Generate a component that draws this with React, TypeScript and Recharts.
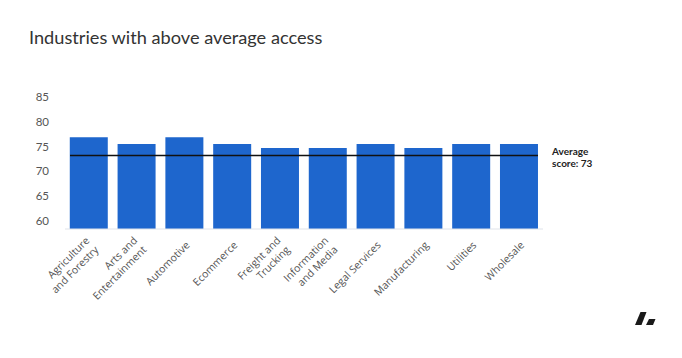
import { BarChart, Bar, XAxis, YAxis, ReferenceLine } from "recharts"

const industries = [
  "Agriculture\nand Forestry",
  "Arts and\nEntertainment",
  "Automotive",
  "Ecommerce",
  "Freight and\nTrucking",
  "Information\nand Media",
  "Legal Services",
  "Manufacturing",
  "Utilities",
  "Wholesale",
]
const scores = [76.9, 75.5, 76.9, 75.5, 74.7, 74.7, 75.5, 74.7, 75.5, 75.5]
const yTicks = [60, 65, 70, 75, 80, 85]
const averageScore = 73.2
const averageLabel = ["Average", "score: 73"]

const BLUE = "#1e66cd"
const TEXT = "#555555"
const FONT = "Lato, 'Open Sans', sans-serif"

const data = industries.map((name, i) => ({ name, score: scores[i] }))

function IndustryTick(props: any) {
  const { x, y, payload } = props
  const lines = String(payload.value).split("\n")
  return (
    <g transform={`translate(${x + 3},${y + 6})`}>
      <text
        transform="rotate(-45)"
        textAnchor="end"
        fill={TEXT}
        fontSize={10.5}
        fontFamily="'Open Sans', sans-serif"
      >
        {lines.map((l, i) => (
          <tspan key={i} x={0} y={(i - (lines.length - 1) / 2) * 13 + 4}>
            {l}
          </tspan>
        ))}
      </text>
    </g>
  )
}

function AverageLabel(props: any) {
  const { viewBox } = props
  const x = viewBox.x + viewBox.width + 9
  const y = viewBox.y
  return (
    <text fill="#222" fontSize={10} fontWeight={700} fontFamily={FONT}>
      {averageLabel.map((l, i) => (
        <tspan key={i} x={x} y={y - 1 + i * 12.5}>
          {l}
        </tspan>
      ))}
    </text>
  )
}

function AverageLine(props: any) {
  const { x1, x2, y1, y2 } = props
  const inset = 5
  return <line x1={x1 + inset} x2={x2 - inset} y1={y1} y2={y2} stroke="#111" strokeWidth={1.3} />
}

export default function App() {
  return (
    <div style={{ margin: -8, width: 682, height: 358, background: "#f6f6f8", fontFamily: FONT }}>
      <div
        style={{
          position: "relative",
          width: 680,
          height: 356,
          background: "#ffffff",
          border: "1px solid #e8e8ec",
          borderRadius: 8,
        }}
      >
        <div style={{ position: "absolute", left: 28, top: 25, fontSize: 18.2, color: "#333", whiteSpace: "nowrap" }}>
          Industries with above average access
        </div>
        <div style={{ position: "absolute", left: -1, top: -1 }}>
          <BarChart
            width={682}
            height={358}
            data={data}
            margin={{ top: 87, right: 139, left: 25, bottom: 69 }}
            barCategoryGap="10%"
          >
            <YAxis
              domain={[58.4, 87]}
              ticks={yTicks}
              allowDataOverflow
              width={40}
              axisLine={false}
              tickLine={false}
              tickMargin={10}
              tick={{ fill: TEXT, fontSize: 11.5, fontFamily: FONT }}
            />
            <XAxis
              dataKey="name"
              interval={0}
              height={60}
              axisLine={{ stroke: "#dfe3ea" }}
              tickLine={false}
              tick={<IndustryTick />}
            />
            <Bar dataKey="score" fill={BLUE} isAnimationActive={false} />
            <ReferenceLine
              y={averageScore}
              shape={<AverageLine />}
              label={<AverageLabel />}
            />
          </BarChart>
        </div>
        <svg style={{ position: "absolute", left: 630, top: 308 }} width={30} height={20}>
          <polygon points="4,16 10.5,16 15.5,3 9.5,3" fill="#1a1a1a" />
          <polygon points="15,16 22,16 24.5,10 18,10" fill="#1a1a1a" />
        </svg>
      </div>
    </div>
  )
}
